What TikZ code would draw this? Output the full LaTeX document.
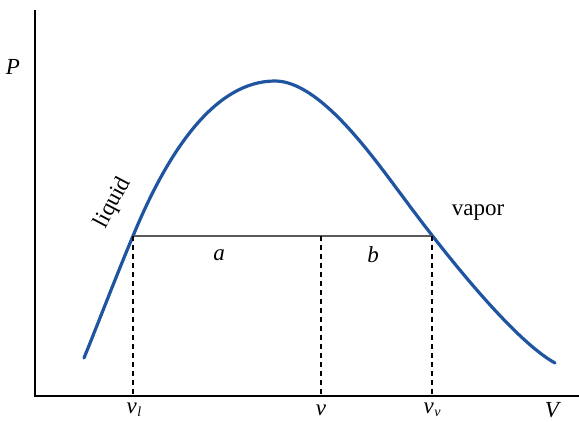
\documentclass[tikz,border=0pt]{standalone}
\usepackage{fontspec}
\setmainfont{Liberation Serif}
\usepackage{tikz}
\definecolor{curvablue}{RGB}{30,84,160}
\tikzset{
  rotulo/.style={font=\fontsize{23}{26}\selectfont, inner sep=0pt},
  tracejado/.style={line width=1.4pt, dash pattern=on 5pt off 4pt},
}

\begin{document}
\begin{tikzpicture}[x=1pt, y=1pt]
    \useasboundingbox (0,0) rectangle (579,421);

    % Eixos
    \coordinate (O) at (35,25);
    \coordinate (Ptop) at (35,411);
    \coordinate (Vend) at (579,25);
    \draw[line width=2pt] (Ptop) -- (O) -- (Vend);
    \node[rotulo] (P) at (13,354) {\itshape P};
    \node[rotulo] (V) at (552,11) {\itshape V};

    % Pontos da curva
    \coordinate (C0) at (84,63);
    \coordinate (L) at (133,185);
    \coordinate (C1) at (275,340);
    \coordinate (C2) at (403,224);
    \coordinate (C3) at (555,58);

    % Curva de saturacao
    \draw[curvablue, line width=3.2pt, line cap=round]
        (C0) .. controls (101,105) and (117,147) .. (L)
             .. controls (168,270) and (215,340) .. (C1)
             .. controls (320,340) and (373,264) .. (C2)
             .. controls (448,163) and (515,80) .. (C3);

    % Linha horizontal e tracejados
    \coordinate (M) at (321,185);
    \coordinate (G) at (432,185);
    \coordinate (Lb) at (133,25);
    \coordinate (Mb) at (321,25);
    \coordinate (Gb) at (432,25);
    \draw[line width=1.3pt, black!65] (L) -- (G);
    \draw[tracejado] (L) -- (Lb);
    \draw[tracejado] (M) -- (Mb);
    \draw[tracejado] (G) -- (Gb);

    % Rotulos
    \node[rotulo] (vl) at (134,11) {\itshape v\kern0.5pt\raisebox{-3pt}{\fontsize{14}{15}\selectfont l}};
    \node[rotulo] (v) at (321,11) {\itshape v};
    \node[rotulo] (vv) at (432,11) {\itshape v\kern0.5pt\raisebox{-3pt}{\fontsize{14}{15}\selectfont v}};
    \node[rotulo] (a) at (219,166) {\itshape a};
    \node[rotulo] (b) at (373,166) {\itshape b};
    \node[rotulo, rotate=62] (liquid) at (113,218) {liquid};
    \node[rotulo] (vapor) at (478,208) {vapor};
\end{tikzpicture}
\end{document}
